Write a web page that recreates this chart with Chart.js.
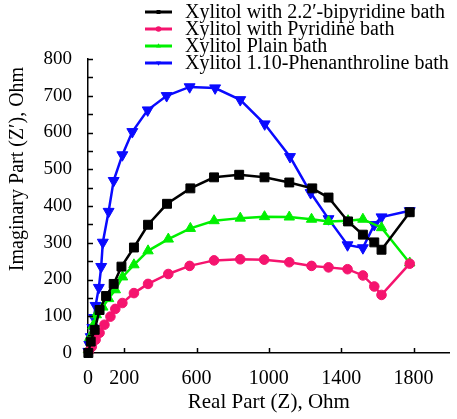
<!DOCTYPE html>
<html>
<head>
<meta charset="utf-8">
<script src="https://cdn.jsdelivr.net/npm/chart.js@4/dist/chart.umd.min.js"></script>
<style>
html,body{margin:0;padding:0;background:#fff;}
#wrap{width:457px;height:419px;position:relative;}
</style>
</head>
<body>
<div id="wrap"><canvas id="c" width="457" height="419"></canvas></div>
<script>
// ---- data ----
const seriesLabels = [
  "Xylitol with 2.2\u2032-bipyridine bath",
  "Xylitol with Pyridine bath",
  "Xylitol Plain bath",
  "Xylitol 1.10-Phenanthroline bath"
];
const bipyX = [2, 15, 37, 64, 100, 142, 185, 254, 332, 437, 566, 697, 836, 976, 1113, 1240, 1330, 1438, 1520, 1583, 1623, 1779];
const bipyY = [0, 31, 63, 117, 155, 188, 235, 287, 349, 406, 448, 478, 485, 478, 464, 448, 423, 358, 322, 301, 281, 383];
const pyrX = [4, 21, 42, 64, 91, 124, 151, 190, 254, 332, 444, 562, 697, 842, 974, 1113, 1236, 1330, 1435, 1520, 1583, 1623, 1779];
const pyrY = [4, 17, 36, 55, 77, 99, 120, 136, 163, 188, 215, 237, 252, 255, 254, 247, 237, 233, 228, 211, 181, 158, 243];
const plainX = [2, 10, 28, 46, 82, 114, 151, 191, 254, 332, 444, 566, 697, 842, 976, 1113, 1236, 1330, 1438, 1520, 1623, 1779];
const plainY = [9, 42, 74, 104, 125, 148, 172, 207, 240, 278, 310, 339, 360, 367, 371, 370, 364, 358, 360, 364, 341, 245];
const phenX = [2, 7, 15, 24, 33, 42, 60, 73, 82, 114, 142, 190, 245, 330, 435, 562, 703, 842, 977, 1117, 1231, 1330, 1435, 1520, 1583, 1623, 1779];
const phenY = [4, 23, 44, 69, 96, 129, 178, 235, 301, 385, 469, 539, 602, 661, 700, 724, 721, 689, 623, 534, 436, 365, 294, 286, 349, 370, 387];
const xTickValues = [0, 200, 600, 1000, 1400, 1800];
const xTitle = "Real Part (Z), Ohm";
const yTitle = "Imaginary Part (Z\u2032), Ohm";

const FONT = "'Liberation Serif','Times New Roman',serif";
function pts(xs, ys){ return xs.map((x,i)=>({x:x, y:ys[i]})); }

const styles = [
  {color:'#000000', pointStyle:'rect', radius:6.3, rotation:0},
  {color:'#f5146e', pointStyle:'circle', radius:4.8, rotation:0},
  {color:'#00f000', pointStyle:'triangle', radius:6, rotation:0},
  {color:'#0a0aff', pointStyle:'triangle', radius:6.3, rotation:180}
];
const allData = [pts(bipyX,bipyY), pts(pyrX,pyrY), pts(plainX,plainY), pts(phenX,phenY)];

const datasets = allData.map((d,i)=>({
  label: seriesLabels[i],
  data: d,
  showLine: true,
  borderColor: styles[i].color,
  backgroundColor: styles[i].color,
  borderWidth: 2.5,
  pointStyle: styles[i].pointStyle,
  pointRadius: styles[i].radius,
  pointRotation: styles[i].rotation,
  pointBorderWidth: 1,
  pointHoverRadius: styles[i].radius,
  tension: 0,
  clip: 8
}));

const inwardTicks = {
  id: 'inwardTicks',
  afterDraw(chart){
    const ctx = chart.ctx, xs = chart.scales.x, ys = chart.scales.y;
    const left = chart.chartArea.left, bottom = chart.chartArea.bottom;
    ctx.save();
    ctx.strokeStyle = '#000';
    ctx.lineWidth = 1.5;
    ctx.beginPath();
    for (let v = 0; v <= 800; v += 50){
      const py = Math.round(ys.getPixelForValue(v)) + 0.5;
      ctx.moveTo(left, py); ctx.lineTo(left + 5, py);
    }
    [200, 600, 1000, 1400, 1800].forEach(v=>{
      const px = Math.round(xs.getPixelForValue(v)) + 0.5;
      ctx.moveTo(px, bottom); ctx.lineTo(px, bottom - 5);
    });
    ctx.stroke();
    // y-axis title
    ctx.translate(18, 169);
    ctx.rotate(-Math.PI/2);
    ctx.fillStyle = '#000';
    ctx.font = "20px " + FONT;
    ctx.textAlign = 'center';
    ctx.textBaseline = 'middle';
    ctx.fillText(yTitle, 0, 0);
    ctx.restore();
  }
};

const customLegend = {
  id: 'customLegend',
  afterDraw(chart){
    const ctx = chart.ctx;
    ctx.save();
    const rowY = [12, 29, 46, 63];
    chart.data.datasets.forEach((ds,i)=>{
      const y = rowY[i];
      ctx.strokeStyle = ds.borderColor;
      ctx.lineWidth = 3;
      ctx.beginPath(); ctx.moveTo(145, y); ctx.lineTo(172, y); ctx.stroke();
      ctx.fillStyle = ds.borderColor;
      Chart.helpers.drawPoint(ctx, {pointStyle: ds.pointStyle, rotation: ds.pointRotation, radius: 2.8, borderWidth: 0}, 158.5, y);
      ctx.fillStyle = '#000';
      ctx.font = "20px " + FONT;
      ctx.textBaseline = 'middle';
      ctx.textAlign = 'left';
      ctx.fillText(ds.label, 185, y + 1);
    });
    ctx.restore();
  }
};

new Chart(document.getElementById('c'), {
  type: 'scatter',
  data: { datasets: datasets },
  options: {
    responsive: false,
    animation: false,
    events: [],
    layout: { padding: { top: 59, right: 0, left: 0, bottom: 0 } },
    plugins: { legend: { display: false }, tooltip: { enabled: false } },
    scales: {
      x: {
        type: 'linear', min: 0, max: 2000,
        grid: { display: false },
        border: { display: true, color: '#000', width: 1.5 },
        afterBuildTicks: (s)=>{ s.ticks = xTickValues.map(v=>({value:v})); },
        afterFit: (s)=>{ s.height = 66; },
        ticks: { autoSkip: false, maxRotation: 0, color: '#000', padding: 6,
                 font: { family: FONT, size: 20 }, callback: (v)=>String(v) },
        title: { display: true, text: xTitle, color: '#000', font: { family: FONT, size: 21 }, padding: { top: 0, bottom: 4 } }
      },
      y: {
        type: 'linear', min: 0, max: 800,
        grid: { display: false },
        border: { display: true, color: '#000', width: 1.5 },
        afterFit: (s)=>{ s.width = 88; },
        ticks: { stepSize: 100, color: '#000', padding: 8, font: { family: FONT, size: 19 },
                 callback: (v)=>String(v) },
        title: { display: false }
      }
    }
  },
  plugins: [inwardTicks, customLegend]
});
</script>
</body>
</html>
